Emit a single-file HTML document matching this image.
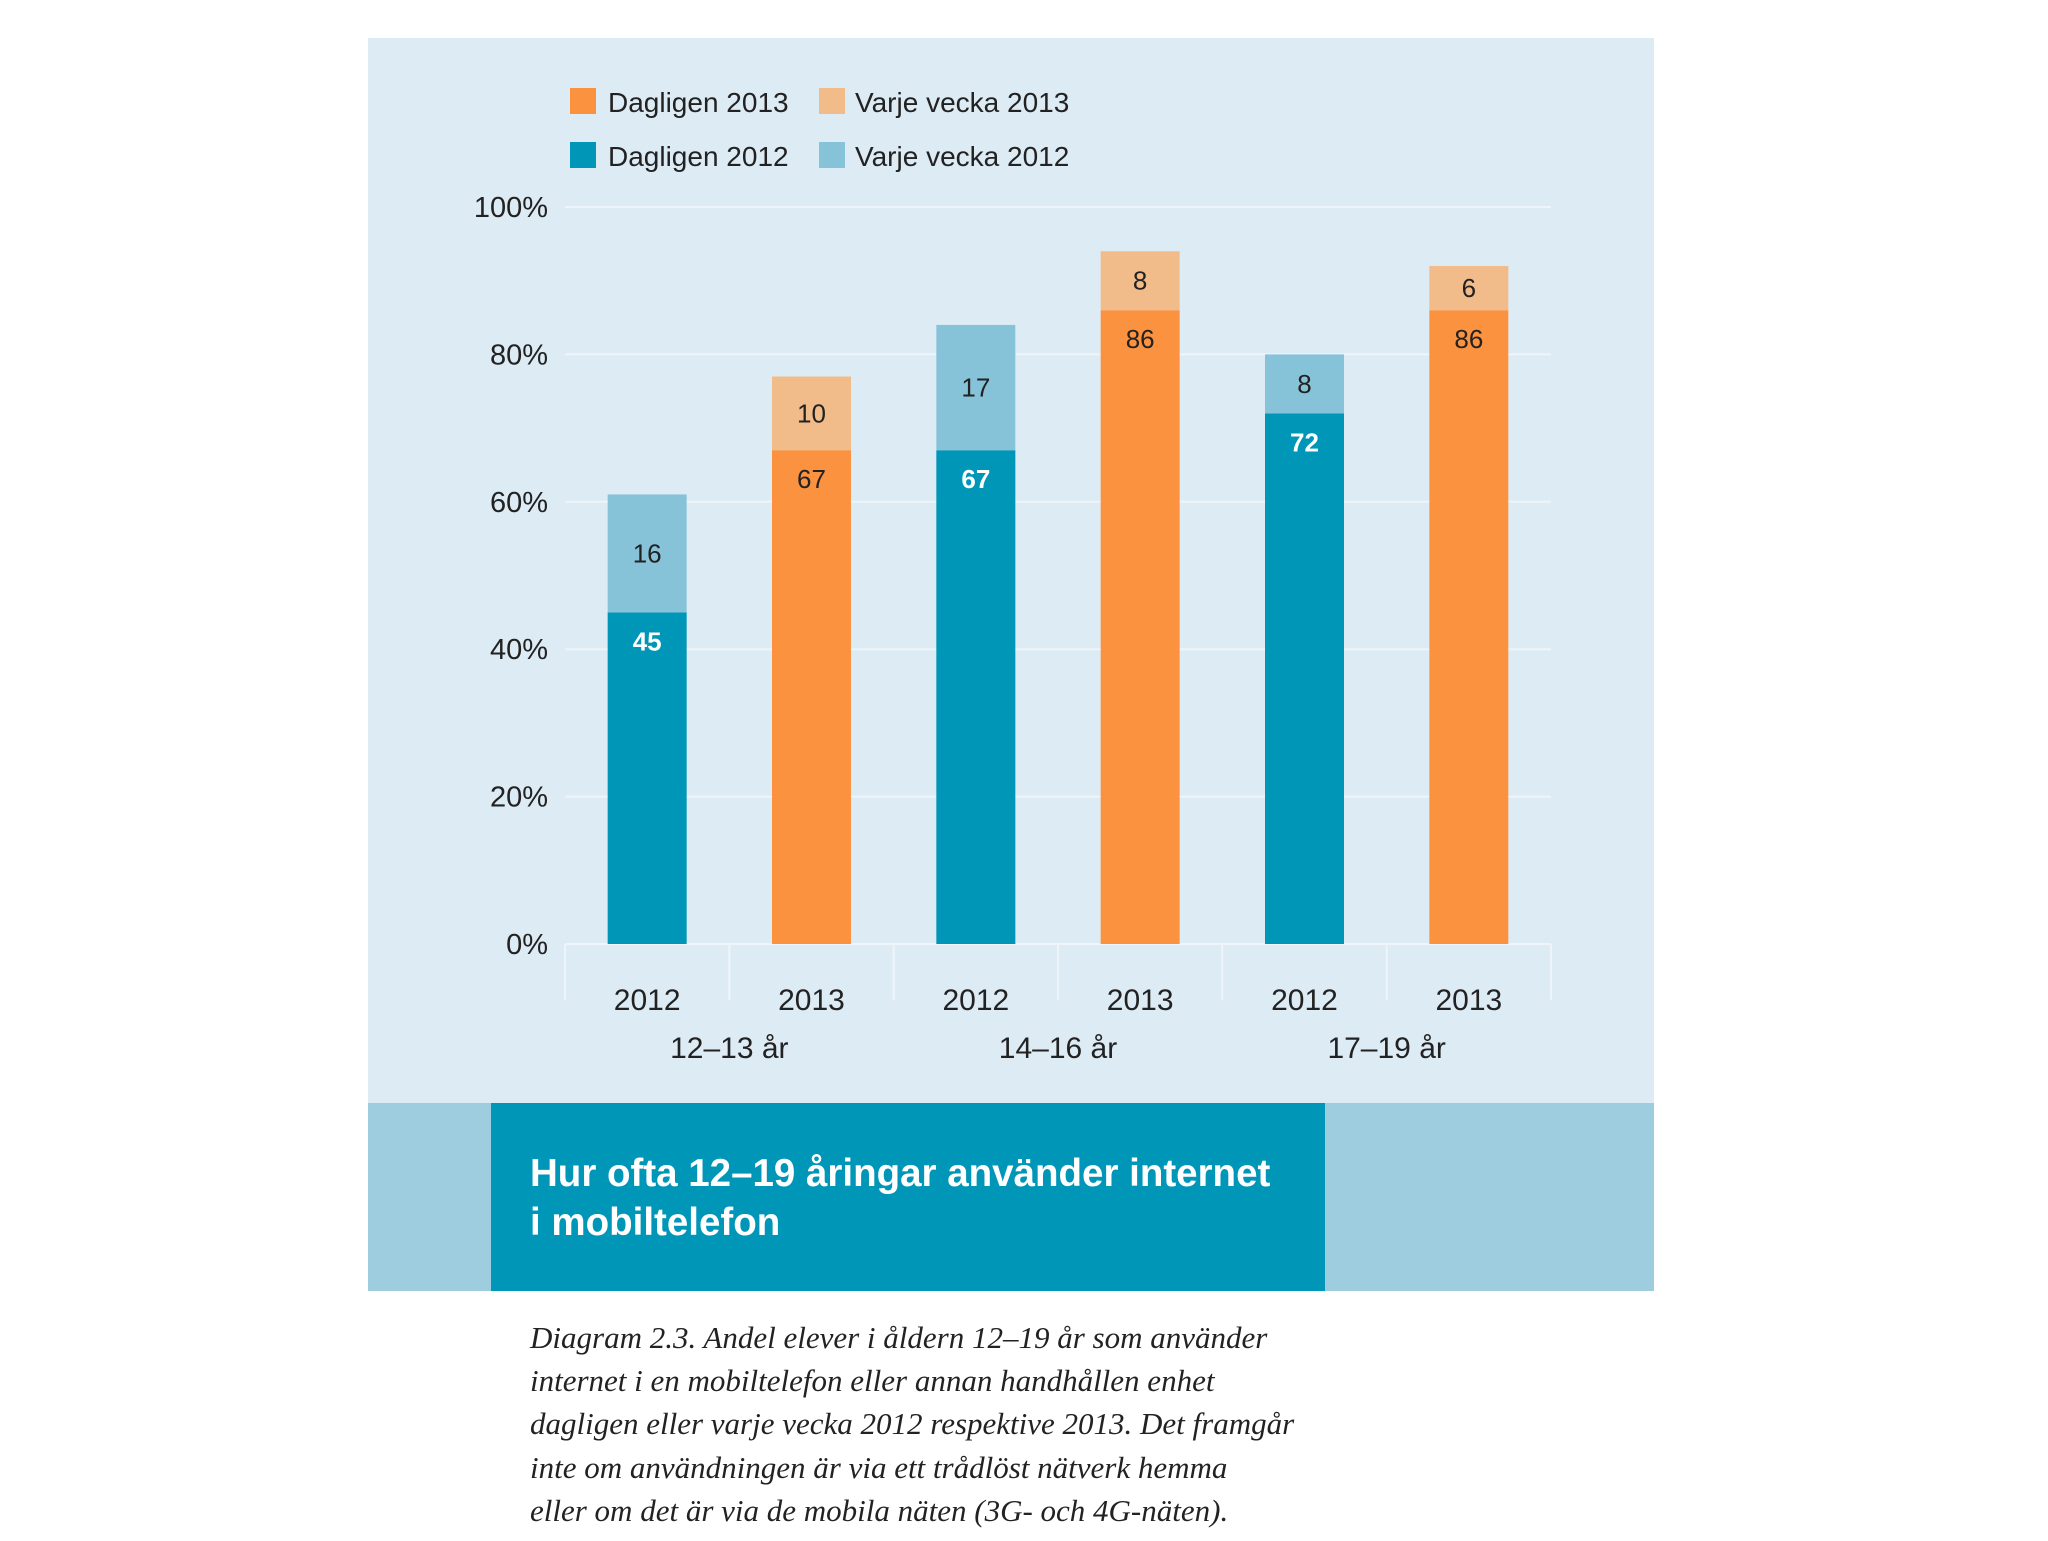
<!DOCTYPE html>
<html><head><meta charset="utf-8"><style>
body{margin:0;background:#fff;width:2048px;height:1536px;overflow:hidden;font-family:"Liberation Sans",sans-serif}
</style></head><body>
<svg width="2048" height="1536" viewBox="0 0 2048 1536">
<rect x="368" y="38" width="1286" height="1065" fill="#ddebf5"/>
<rect x="368" y="1103" width="1286" height="188" fill="#9fcde0"/>
<rect x="491" y="1103" width="834" height="188" fill="#0096b8"/>
<text x="530" y="1186" font-size="38.5" font-weight="bold" fill="#fff">Hur ofta 12–19 åringar använder internet</text>
<text x="530" y="1235" font-size="38.5" font-weight="bold" fill="#fff">i mobiltelefon</text>
<g font-family="Liberation Serif,serif" font-style="italic" font-size="31" fill="#222">
<text x="530" y="1348">Diagram 2.3. Andel elever i åldern 12–19 år som använder</text>
<text x="530" y="1391">internet i en mobiltelefon eller annan handhållen enhet</text>
<text x="530" y="1434">dagligen eller varje vecka 2012 respektive 2013. Det framgår</text>
<text x="530" y="1478">inte om användningen är via ett trådlöst nätverk hemma</text>
<text x="530" y="1521">eller om det är via de mobila näten (3G- och 4G-näten).</text>
</g>
<g font-size="28" fill="#222">
<rect x="570" y="88" width="26" height="26" fill="#fb9240"/>
<text x="608" y="112">Dagligen 2013</text>
<rect x="819" y="88" width="26" height="26" fill="#f2bb8a"/>
<text x="855" y="112">Varje vecka 2013</text>
<rect x="570" y="142" width="26" height="26" fill="#0096b8"/>
<text x="608" y="166">Dagligen 2012</text>
<rect x="819" y="142" width="26" height="26" fill="#86c3d9"/>
<text x="855" y="166">Varje vecka 2012</text>
</g>
<g id="plot"></g>
</svg>
<script>
const years=["2012","2013","2012","2013","2012","2013"];
const groups=["12–13 år","14–16 år","17–19 år"];
const daily=[45,67,67,86,72,86];
const weekly=[16,10,17,8,8,6];
const yTicks=[0,20,40,60,80,100];
const tickLabels=["0%","20%","40%","60%","80%","100%"];
const NS="http://www.w3.org/2000/svg";
const g=document.getElementById('plot');
const x0=565,x1=1551,slot=(x1-x0)/years.length,bw=79;
const y=v=>944-v*(944-207)/100;
const xc=i=>x0+slot*(i+0.5);
function mk(t,a,p){const e=document.createElementNS(NS,t);for(const k in a)e.setAttribute(k,a[k]);(p||g).appendChild(e);return e;}
yTicks.forEach((v,i)=>{
 if(v>0){const l=mk('line',{x1:x0,x2:x1,y1:y(v),y2:y(v),stroke:'#eef5fa','stroke-width':2});
 
 }
 const t=mk('text',{x:548,y:y(v)+10,'text-anchor':'end','font-size':29,fill:'#222'});
 t.textContent=tickLabels[i];
 
 
});
const base=mk('line',{x1:x0,x2:x1,y1:944,y2:944,stroke:'#eef5fa','stroke-width':2});


for(let i=0;i<=years.length;i++){
 const l=mk('line',{x1:x0+slot*i,x2:x0+slot*i,y1:944,y2:1000,stroke:'#eef5fa','stroke-width':2});
 
 
}
years.forEach((yr,i)=>{
 const is13=yr==="2013";
 const c1=is13?'#fb9240':'#0096b8',c2=is13?'#f2bb8a':'#86c3d9';
 const cx=xc(i);
 const r1=mk('rect',{x:cx-bw/2,y:y(daily[i]),width:bw,height:y(0)-y(daily[i]),fill:c1});
 
 
 const r2=mk('rect',{x:cx-bw/2,y:y(daily[i]+weekly[i]),width:bw,height:y(daily[i])-y(daily[i]+weekly[i]),fill:c2});
 
 
 const t1=mk('text',{x:cx,y:y(daily[i])+38,'text-anchor':'middle','font-size':26,'font-weight':is13?'normal':'bold',fill:is13?'#222':'#fff'});
 t1.textContent=daily[i];
 
 
 const t2=mk('text',{x:cx,y:(y(daily[i])+y(daily[i]+weekly[i]))/2+9,'text-anchor':'middle','font-size':26,fill:'#222'});
 t2.textContent=weekly[i];
 
 
 const t3=mk('text',{x:cx,y:1010,'text-anchor':'middle','font-size':30,fill:'#222'});
 t3.textContent=yr;
 
 
});
groups.forEach((gr,j)=>{
 const t=mk('text',{x:x0+slot*(2*j+1),y:1058,'text-anchor':'middle','font-size':30,fill:'#222'});
 t.textContent=gr;
 
 
});
</script>
</body></html>
